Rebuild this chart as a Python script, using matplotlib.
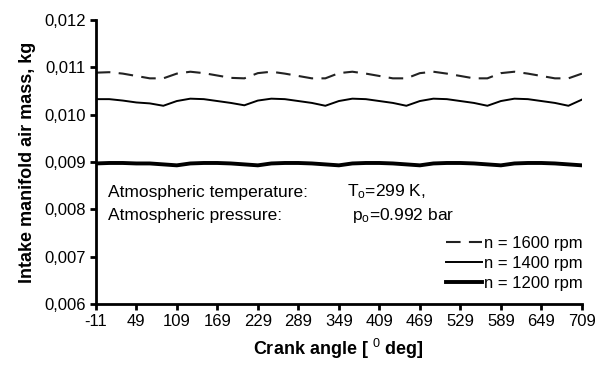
import numpy as np
import matplotlib
matplotlib.use('Agg')
import matplotlib.pyplot as plt
from matplotlib.ticker import FuncFormatter

plt.rcParams['font.family'] = ['Liberation Sans', 'DejaVu Sans']
plt.rcParams['mathtext.fontset'] = 'custom'
plt.rcParams['mathtext.rm'] = 'Liberation Sans'
plt.rcParams['mathtext.it'] = 'Liberation Sans'
plt.rcParams['mathtext.bf'] = 'Liberation Sans:bold'
plt.rcParams['axes.unicode_minus'] = False

# crank angle samples, deg
angle = np.arange(-11, 710, 20)

# intake manifold air mass, kg
m_1600 = [0.01089, 0.01090, 0.01087, 0.01082, 0.01077, 0.01077,
          0.01087, 0.01091, 0.01088, 0.01083, 0.01078, 0.01077,
          0.01088, 0.01091, 0.01087, 0.01082, 0.01077, 0.01077,
          0.01088, 0.01091, 0.01087, 0.01082, 0.01077, 0.01077,
          0.01088, 0.01091, 0.01087, 0.01082, 0.01077, 0.01077,
          0.01088, 0.01091, 0.01087, 0.01082, 0.01077, 0.01077,
          0.01087]
m_1400 = [0.01033, 0.01033, 0.01030, 0.01026, 0.01024, 0.01019,
          0.01029, 0.01034, 0.01033, 0.01029, 0.01025, 0.01020,
          0.01030, 0.01034, 0.01033, 0.01029, 0.01025, 0.01019,
          0.01029, 0.01034, 0.01033, 0.01029, 0.01025, 0.01019,
          0.01029, 0.01034, 0.01033, 0.01029, 0.01025, 0.01019,
          0.01029, 0.01034, 0.01033, 0.01029, 0.01025, 0.01019,
          0.01032]
m_1200 = [0.00897, 0.00898, 0.00898, 0.00897, 0.00897, 0.00895,
          0.00893, 0.00897, 0.00898, 0.00898, 0.00897, 0.00895,
          0.00893, 0.00897, 0.00898, 0.00898, 0.00897, 0.00895,
          0.00893, 0.00897, 0.00898, 0.00898, 0.00897, 0.00895,
          0.00893, 0.00897, 0.00898, 0.00898, 0.00897, 0.00895,
          0.00893, 0.00897, 0.00898, 0.00898, 0.00897, 0.00895,
          0.00893]

x_ticks = np.arange(-11, 710, 60)
y_ticks = [0.006, 0.007, 0.008, 0.009, 0.010, 0.011, 0.012]

fig = plt.figure(figsize=(5.95, 3.67), dpi=100)
ax = fig.add_axes([0.161, 0.172, 0.817, 0.773])

ax.plot(angle, m_1600, color='#222222', lw=1.5, dashes=(7, 4), label='n = 1600 rpm')
ax.plot(angle, m_1400, color='black', lw=1.4, label='n = 1400 rpm')
ax.plot(angle, m_1200, color='black', lw=2.8, label='n = 1200 rpm')

ax.set_xlim(-11, 709)
ax.set_ylim(0.006, 0.012)
ax.set_xticks(x_ticks)
ax.set_yticks(y_ticks)
ax.yaxis.set_major_formatter(FuncFormatter(lambda v, p: f'{v:.3f}'.replace('.', ',')))

for s in ['top', 'right']:
    ax.spines[s].set_visible(False)
for s in ['left', 'bottom']:
    ax.spines[s].set_linewidth(2.0)
ax.tick_params(direction='out', width=2.0, length=4, labelsize=12, pad=3)

ax.set_xlabel(r'Crank angle [ $^{0}$ deg]', fontsize=13, fontweight='bold', labelpad=6)
ax.set_ylabel('Intake manifold air mass, kg', fontsize=13, fontweight='bold', labelpad=6)

ax.text(0.025, 0.394, 'Atmospheric temperature:', transform=ax.transAxes, fontsize=12.5, va='center')
ax.text(0.516, 0.394, r'T$_{\mathrm{o}}$=299 K,', transform=ax.transAxes, fontsize=12.5, va='center')
ax.text(0.025, 0.313, 'Atmospheric pressure:', transform=ax.transAxes, fontsize=12.5, va='center')
ax.text(0.527, 0.313, r'p$_{\mathrm{o}}$=0.992 bar', transform=ax.transAxes, fontsize=12.5, va='center')

ax.legend(loc='lower right', bbox_to_anchor=(1.022, 0.01), frameon=False, fontsize=12,
          handlelength=2.2, handletextpad=0.1, labelspacing=0.3, borderaxespad=0.2)

fig.savefig('out.png', dpi=100)
